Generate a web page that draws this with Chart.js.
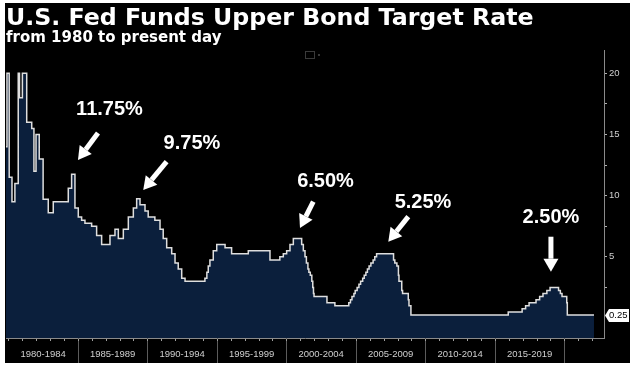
<!DOCTYPE html>
<html>
<head>
<meta charset="utf-8">
<script src="https://cdn.jsdelivr.net/npm/chart.js@4.4.0/dist/chart.umd.min.js"></script>
<style>
html,body{margin:0;padding:0;background:#fff;}
#wrap{width:636px;height:366px;}
canvas{display:block;}
</style>
</head>
<body>
<div id="wrap"><canvas id="c" width="636" height="366"></canvas></div>
<script>
// ---- text ----
const titleText = "U.S. Fed Funds Upper Bond Target Rate";
const subtitleText = "from 1980 to present day";

// ---- data: date (decimal year) at which each target level starts ----
const changeDates = [
  1979.83, 1979.90, 1980.06, 1980.26, 1980.47, 1980.71, 1980.80, 1981.01, 1981.32, 1981.68,
  1981.84, 1981.99, 1982.22, 1982.50, 1982.87, 1983.23, 1984.31, 1984.55, 1984.79, 1985.03,
  1985.27, 1985.51, 1985.99, 1986.35, 1986.71, 1987.31, 1987.67, 1987.91, 1988.27, 1988.63,
  1988.99, 1989.23, 1989.47, 1989.83, 1990.06, 1990.54, 1990.91, 1991.14, 1991.39, 1991.75,
  1991.99, 1992.22, 1992.47, 1992.71, 1994.14, 1994.28, 1994.38, 1994.50, 1994.74, 1994.99,
  1995.59, 1996.06, 1997.26, 1998.82, 1999.53, 1999.78, 2000.02, 2000.26, 2000.50, 2001.10,
  2001.22, 2001.34, 2001.44, 2001.55, 2001.62, 2001.72, 2001.83, 2001.90, 2001.95, 2001.99,
  2002.92, 2003.49, 2004.49, 2004.61, 2004.72, 2004.86, 2004.95, 2005.09, 2005.22, 2005.34,
  2005.49, 2005.60, 2005.72, 2005.83, 2005.95, 2006.08, 2006.24, 2006.36, 2006.49, 2007.71,
  2007.80, 2007.95, 2008.06, 2008.10, 2008.30, 2008.36, 2008.77, 2008.82, 2008.96, 2015.96,
  2016.96, 2017.21, 2017.46, 2017.96, 2018.22, 2018.46, 2018.74, 2018.97, 2019.58, 2019.71,
  2019.83, 2020.17, 2020.21, 2022.13
];
const targetRates = [
  14, 20, 11.5, 9.5, 11, 20, 18, 20, 16, 15.5,
  12, 15, 13, 9.7, 8.6, 9.5, 10.6, 11.75, 9, 8.25,
  8, 7.75, 7.5, 6.75, 6, 6.75, 7.25, 6.5, 7.25, 8.25,
  9, 9.75, 9.25, 8.75, 8.25, 8, 7.25, 6.5, 5.75, 5.25,
  4.5, 4, 3.25, 3, 3.25, 3.75, 4.25, 4.75, 5.5, 6,
  5.75, 5.25, 5.5, 4.75, 5, 5.25, 5.5, 6, 6.5, 6,
  5.5, 5, 4.5, 4, 3.75, 3.5, 3, 2.5, 2, 1.75,
  1.25, 1, 1.25, 1.5, 1.75, 2, 2.25, 2.5, 2.75, 3,
  3.25, 3.5, 3.75, 4, 4.25, 4.5, 4.75, 5, 5.25, 4.75,
  4.5, 4.25, 3.5, 3, 2.25, 2, 1.5, 1, 0.25, 0.5,
  0.75, 1, 1.25, 1.5, 1.75, 2, 2.25, 2.5, 2.25, 2,
  1.75, 1.25, 0.25, 0.25
];

// ---- axis ticks ----
const periodStarts = [1980, 1985, 1990, 1995, 2000, 2005, 2010, 2015];
const periodLabels = ["1980-1984", "1985-1989", "1990-1994", "1995-1999", "2000-2004", "2005-2009", "2010-2014", "2015-2019"];
const separatorYears = [1985, 1990, 1995, 2000, 2005, 2010, 2015, 2020];
const yearTicks = [1980, 1981, 1982, 1983, 1984, 1985, 1986, 1987, 1988, 1989, 1990, 1991, 1992, 1993, 1994,
  1995, 1996, 1997, 1998, 1999, 2000, 2001, 2002, 2003, 2004, 2005, 2006, 2007, 2008, 2009, 2010,
  2011, 2012, 2013, 2014, 2015, 2016, 2017, 2018, 2019, 2020, 2021, 2022];
const yLabelTicks = [5, 10, 15, 20];
const yMinorTicks = [2.5, 7.5, 12.5, 17.5];

// ---- peak call-outs ----
const peakLabels = ["11.75%", "9.75%", "6.50%", "5.25%", "2.50%"];
const peakDates = [1984.67, 1989.35, 2000.80, 2006.49, 2019.27];
const peakRates = [11.75, 9.75, 6.5, 5.25, 2.5];

// ---- call-out geometry (pixel offsets from the peak point) ----
const calloutOffsets = [
  {tip:[4.7,-14.3], tail:[24.7,-41.3], text:[36.2,-59.3]},
  {tip:[4.9,-8.8],  tail:[28.3,-37.1], text:[53.6,-49.8]},
  {tip:[2.5,-10.5], tail:[15.8,-36.8], text:[28,-51.5]},
  {tip:[11.7,-12.1],tail:[31.7,-37.1], text:[46.4,-45.8]},
  {tip:[-3.3,-15.7],tail:[-3.3,-50.7], text:[-3.3,-64.4]}
];

const points = changeDates.map((d, i) => ({x: d, y: targetRates[i]}));

function drawArrow(ctx, x1, y1, x2, y2) {
  const ang = Math.atan2(y2 - y1, x2 - x1);
  const head = 13, hw = 7.5;
  const bx = x2 - head * Math.cos(ang), by = y2 - head * Math.sin(ang);
  ctx.strokeStyle = '#ffffff';
  ctx.lineWidth = 5;
  ctx.lineCap = 'butt';
  ctx.beginPath(); ctx.moveTo(x1, y1); ctx.lineTo(bx, by); ctx.stroke();
  ctx.fillStyle = '#ffffff';
  ctx.beginPath();
  ctx.moveTo(x2, y2);
  ctx.lineTo(bx + hw * Math.sin(ang), by - hw * Math.cos(ang));
  ctx.lineTo(bx - hw * Math.sin(ang), by + hw * Math.cos(ang));
  ctx.closePath(); ctx.fill();
}

const decor = {
  id: 'decor',
  beforeDraw(chart) {
    const ctx = chart.ctx;
    ctx.save();
    ctx.fillStyle = '#ffffff';
    ctx.fillRect(0, 0, chart.width, chart.height);
    ctx.fillStyle = '#000000';
    ctx.fillRect(5, 3, 625, 360);
    // small toolbar icon
    ctx.strokeStyle = '#3a3a3a'; ctx.lineWidth = 1;
    ctx.strokeRect(305.5, 51.5, 9, 7);
    ctx.fillStyle = '#3a3a3a'; ctx.fillRect(318, 54, 2, 2);
    // titles
    ctx.fillStyle = '#ffffff';
    ctx.textAlign = 'left';
    ctx.textBaseline = 'alphabetic';
    ctx.font = 'bold 23.7px "DejaVu Sans"';
    ctx.fillText(titleText, 6, 25);
    ctx.font = 'bold 15px "DejaVu Sans"';
    ctx.fillText(subtitleText, 6, 42);
    ctx.restore();
  },
  afterDraw(chart) {
    const ctx = chart.ctx;
    const xs = chart.scales.x, ys = chart.scales.y;
    const bottom = chart.chartArea.bottom;
    ctx.save();
    // period separators below the axis
    ctx.strokeStyle = '#5c5c5c'; ctx.lineWidth = 1;
    separatorYears.forEach(v => {
      const px = Math.round(xs.getPixelForValue(v)) + 0.5;
      ctx.beginPath(); ctx.moveTo(px, bottom); ctx.lineTo(px, 363); ctx.stroke();
    });
    // yearly ticks
    ctx.strokeStyle = '#a0a0a0';
    yearTicks.forEach(v => {
      const px = Math.round(xs.getPixelForValue(v)) + 0.5;
      ctx.beginPath(); ctx.moveTo(px, bottom + 1); ctx.lineTo(px, bottom + 3); ctx.stroke();
    });
    // call-outs
    peakLabels.forEach((lab, i) => {
      const px = xs.getPixelForValue(peakDates[i]);
      const py = ys.getPixelForValue(peakRates[i]);
      const o = calloutOffsets[i];
      drawArrow(ctx, px + o.tail[0], py + o.tail[1], px + o.tip[0], py + o.tip[1]);
      ctx.fillStyle = '#ffffff';
      ctx.font = 'bold 20px "Liberation Sans"';
      ctx.textAlign = 'center';
      ctx.textBaseline = 'alphabetic';
      ctx.fillText(lab, px + o.text[0], py + o.text[1]);
    });
    // last value tag
    const last = targetRates[targetRates.length - 1];
    const ty = Math.round(ys.getPixelForValue(last)) + 0.5;
    const tx = chart.chartArea.right + 1;
    ctx.beginPath();
    ctx.moveTo(tx, ty);
    ctx.lineTo(tx + 4, ty - 6.5);
    ctx.lineTo(629, ty - 6.5);
    ctx.lineTo(629, ty + 6.5);
    ctx.lineTo(tx + 4, ty + 6.5);
    ctx.closePath();
    ctx.fillStyle = '#ffffff'; ctx.fill();
    ctx.fillStyle = '#000000';
    ctx.font = '9.5px "Liberation Sans"';
    ctx.textAlign = 'left'; ctx.textBaseline = 'middle';
    ctx.fillText(last.toFixed(2), tx + 4, ty);
    ctx.restore();
  }
};

new Chart(document.getElementById('c'), {
  type: 'line',
  data: {
    datasets: [{
      data: points,
      stepped: 'before',
      borderColor: '#dedede',
      borderWidth: 1.5,
      backgroundColor: '#0b1f3c',
      fill: 'start',
      pointRadius: 0,
      tension: 0
    }]
  },
  options: {
    responsive: false,
    animation: false,
    devicePixelRatio: 1,
    layout: {padding: {top: 50, left: 6, right: 6, bottom: 3}},
    plugins: {legend: {display: false}, tooltip: {enabled: false}, title: {display: false}},
    scales: {
      x: {
        type: 'linear',
        min: 1979.83,
        max: 2022.85,
        grid: {display: false, drawTicks: false},
        border: {display: true, color: '#8a8a8a', width: 1},
        afterBuildTicks: s => { s.ticks = periodStarts.map(v => ({value: v + 2.5})); },
        afterFit: s => { s.height = 25; },
        ticks: {
          autoSkip: false, maxRotation: 0, minRotation: 0, padding: 11,
          color: '#cfcfcf', font: {family: '"Liberation Sans"', size: 9.5},
          callback: (v, i) => periodLabels[i]
        }
      },
      y: {
        position: 'right',
        min: -1.635,
        max: 21.91,
        afterBuildTicks: s => { s.ticks = yMinorTicks.concat(yLabelTicks).sort((a, b) => a - b).map(v => ({value: v})); },
        afterFit: s => { s.width = 26; },
        grid: {display: true, drawOnChartArea: false, drawTicks: true, tickLength: 3, tickColor: '#b0b0b0', color: '#b0b0b0'},
        border: {display: true, color: '#8a8a8a', width: 1},
        ticks: {
          padding: 2, color: '#cfcfcf', font: {family: '"Liberation Sans"', size: 9.5},
          callback: v => yLabelTicks.includes(v) ? String(v) : ''
        }
      }
    }
  },
  plugins: [decor]
});
</script>
</body>
</html>
